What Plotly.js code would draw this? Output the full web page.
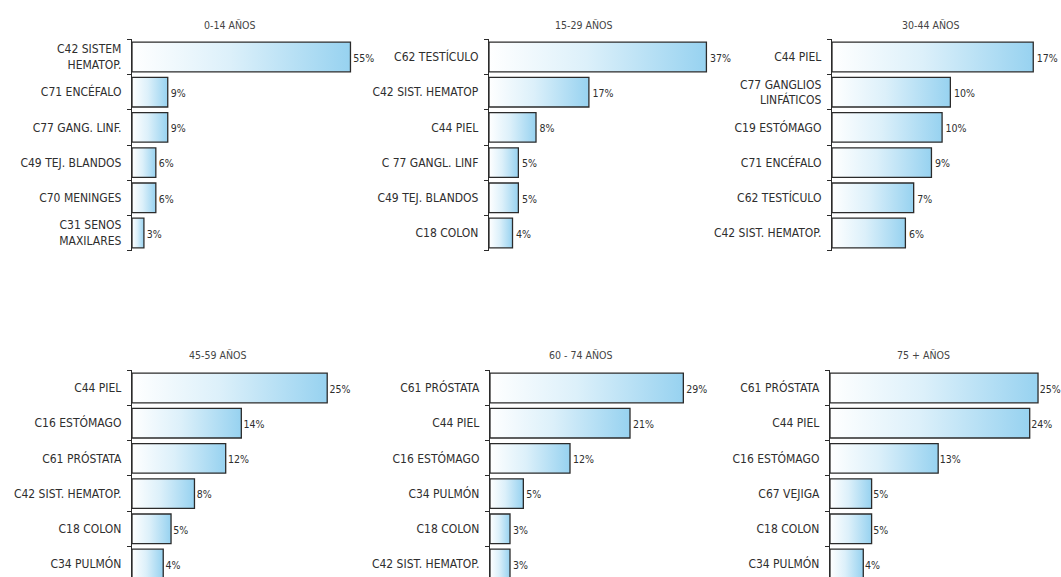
<!DOCTYPE html>
<html>
<head>
<meta charset="utf-8">
<script src="https://cdn.plot.ly/plotly-3.0.1.min.js"></script>
<style>
html,body{margin:0;padding:0;background:#fff;overflow:hidden;}
#chart{width:1061px;height:577px;}
</style>
</head>
<body>
<div id="chart"></div>
<script>
// ---- data ----
const panelTitles = ['0-14 AÑOS', '15-29 AÑOS', '30-44 AÑOS', '45-59 AÑOS', '60 - 74 AÑOS', '75 + AÑOS'];

const cats0 = ['C42 SISTEM<br>HEMATOP.', 'C71 ENCÉFALO', 'C77 GANG. LINF.', 'C49 TEJ. BLANDOS', 'C70 MENINGES', 'C31 SENOS<br>MAXILARES'];
const vals0 = [55, 9, 9, 6, 6, 3];
const pct0 = ['55%', '9%', '9%', '6%', '6%', '3%'];

const cats1 = ['C62 TESTÍCULO', 'C42 SIST. HEMATOP', 'C44 PIEL', 'C 77 GANGL. LINF', 'C49 TEJ. BLANDOS', 'C18 COLON'];
const vals1 = [37, 17, 8, 5, 5, 4];
const pct1 = ['37%', '17%', '8%', '5%', '5%', '4%'];

const cats2 = ['C44 PIEL', 'C77 GANGLIOS<br>LINFÁTICOS', 'C19 ESTÓMAGO', 'C71 ENCÉFALO', 'C62 TESTÍCULO', 'C42 SIST. HEMATOP.'];
const vals2 = [17, 10, 9.3, 8.4, 6.9, 6.2];
const pct2 = ['17%', '10%', '10%', '9%', '7%', '6%'];

const cats3 = ['C44 PIEL', 'C16 ESTÓMAGO', 'C61 PRÓSTATA', 'C42 SIST. HEMATOP.', 'C18 COLON', 'C34 PULMÓN'];
const vals3 = [25, 14, 12, 8, 5, 4];
const pct3 = ['25%', '14%', '12%', '8%', '5%', '4%'];

const cats4 = ['C61 PRÓSTATA', 'C44 PIEL', 'C16 ESTÓMAGO', 'C34 PULMÓN', 'C18 COLON', 'C42 SIST. HEMATOP.'];
const vals4 = [29, 21, 12, 5, 3, 3];
const pct4 = ['29%', '21%', '12%', '5%', '3%', '3%'];

const cats5 = ['C61 PRÓSTATA', 'C44 PIEL', 'C16 ESTÓMAGO', 'C67 VEJIGA', 'C18 COLON', 'C34 PULMÓN'];
const vals5 = [25, 24, 13, 5, 5, 4];
const pct5 = ['25%', '24%', '13%', '5%', '5%', '4%'];

const allCats = [cats0, cats1, cats2, cats3, cats4, cats5];
const allVals = [vals0, vals1, vals2, vals3, vals4, vals5];
const allPct = [pct0, pct1, pct2, pct3, pct4, pct5];

// ---- layout geometry (pixels) ----
const W = 1061, H = 577;
const axisLeftPx = [132, 489, 832, 132, 490, 830];
const plotWidthPx = 228;
const xRangeMax = [57.4, 38.8, 19.26, 29.2, 34.2, 27.4];
const rowTopPx = [39.4, 370.4];
const rowBottomPx = [250.6, 577];
const rowYRange = [[5.5, -0.5], [5.37, -0.5]];
const titleCenterPx = [229, 583, 930, 217, 580, 923];
const titleYPx = [25, 355];
const labelMarkerSize = [3, 4, 4, 2, 3, 1];

const FONT = '"Liberation Sans Narrow", "DejaVu Sans Condensed", "Arial Narrow", "Liberation Sans", sans-serif';
const halfBar = 0.42;
const gradient = [[0, '#ffffff'], [0.45, '#dcf0fa'], [1, '#97d2f0']];

const traces = [];
const layout = {
  width: W, height: H,
  margin: {l: 0, r: 0, t: 0, b: 0},
  paper_bgcolor: '#ffffff', plot_bgcolor: 'rgba(0,0,0,0)',
  showlegend: false,
  font: {family: FONT, color: '#333'},
  annotations: []
};

for (let p = 0; p < 6; p++) {
  const row = p < 3 ? 0 : 1;
  const ax = p === 0 ? '' : String(p + 1);
  const xa = 'x' + ax, ya = 'y' + ax;
  const cats = allCats[p], vals = allVals[p], pct = allPct[p];
  const idx = cats.map((_, i) => i);

  vals.forEach((v, i) => {
    traces.push({
      type: 'scatter', mode: 'lines', xaxis: xa, yaxis: ya,
      x: [0, v, v, 0, 0],
      y: [i - halfBar, i - halfBar, i + halfBar, i + halfBar, i - halfBar],
      fill: 'toself',
      fillcolor: '#cde9f7',
      fillgradient: {type: 'horizontal', colorscale: gradient},
      line: {color: '#2b2b2b', width: 1.3},
      hoverinfo: 'skip'
    });
  });

  traces.push({
    type: 'scatter', mode: 'markers+text', xaxis: xa, yaxis: ya,
    x: vals, y: idx.map(i => i + 0.06), text: pct,
    marker: {size: labelMarkerSize[p], opacity: 0},
    textposition: 'middle right',
    textfont: {family: FONT, size: 10.5, color: '#2e2e2e'},
    cliponaxis: false, hoverinfo: 'skip'
  });

  const x0 = axisLeftPx[p] / W, x1 = (axisLeftPx[p] + plotWidthPx) / W;
  const y1 = 1 - rowTopPx[row] / H, y0 = 1 - rowBottomPx[row] / H;

  layout['xaxis' + ax] = {
    domain: [x0, Math.min(x1, 1)], range: [0, xRangeMax[p]],
    visible: false, fixedrange: true, anchor: ya
  };
  layout['yaxis' + ax] = {
    domain: [y0, y1], range: rowYRange[row], anchor: xa,
    tickmode: 'array', tickvals: idx, ticktext: cats,
    ticks: '', showgrid: false, zeroline: false,
    showline: true, linecolor: '#2b2b2b', linewidth: 1.2,
    ticklabelstandoff: 7,
    tickfont: {family: FONT, size: 12, color: '#2e2e2e'},
    minor: {tick0: 0.5, dtick: 1, ticks: 'outside', ticklen: 4, tickcolor: '#2b2b2b', tickwidth: 1, showgrid: false},
    fixedrange: true
  };

  layout.annotations.push({
    text: panelTitles[p], showarrow: false,
    xref: 'paper', yref: 'paper',
    x: titleCenterPx[p] / W, y: 1 - titleYPx[row] / H,
    xanchor: 'center', yanchor: 'middle',
    font: {family: FONT, size: 10.5, color: '#444'}
  });
}

Plotly.newPlot('chart', traces, layout, {displayModeBar: false, staticPlot: true});
</script>
</body>
</html>
